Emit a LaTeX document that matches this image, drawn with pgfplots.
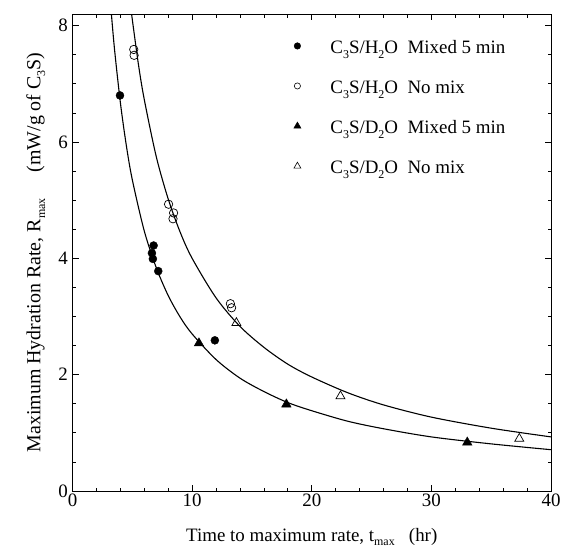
\documentclass[border=0pt]{standalone}
\usepackage{fontspec}
\setmainfont{Liberation Serif}
\usepackage{pgfplots}
\pgfplotsset{compat=1.18}
\newcommand{\sub}[1]{\raisebox{-0.5ex}{\fontsize{12}{12}\selectfont #1}}
\newcommand{\fs}{\fontsize{19}{22}\selectfont}
\begin{document}
\begin{tikzpicture}
\useasboundingbox (-72.5bp,-61bp) rectangle (488.5bp,491bp);
\begin{axis}[
  at={(0,0)}, anchor=south west,
  scale only axis, width=478.5bp, height=477bp,
  xmin=0, xmax=40, ymin=0, ymax=8.2,
  xtick={0,10,20,30,40}, ytick={0,2,4,6,8},
  minor x tick num=4, minor y tick num=3,
  tick align=inside,
  major tick length=6bp, minor tick length=3.5bp,
  every tick/.style={black, line width=0.7bp},
  axis line style={black, line width=0.9bp},
  /pgf/number format/assume math mode=true,
  ticklabel style={font=\fs},
  xticklabel style={inner sep=0pt, yshift=-3bp},
  yticklabel style={inner sep=0pt, xshift=-4.5bp},
  xlabel={Time to maximum rate, t\sub{max}\ \ \ (hr)},
  ylabel={Maximum Hydration Rate, R\sub{max}\hspace{1.3em}(mW/g of C\sub{3}S)},
  label style={font=\fs},
  xlabel style={at={(rel axis cs:0.5,0)}, anchor=base, yshift=-50bp},
  ylabel style={at={(rel axis cs:0,0.5)}, anchor=base, yshift=32bp, font=\fontsize{20}{22}\selectfont},
  legend style={at={(axis cs:18.45,7.74)}, anchor=north west, draw=none, fill=none,
    inner sep=0pt, font=\fs, row sep=22bp, column sep=0pt,
    nodes={inner sep=0pt, text height=13bp, text depth=5bp}},
  legend cell align=left,
]
\addlegendimage{legend image code/.code={\path[draw=none,fill=none] (-4bp,-4bp) rectangle (33bp,4bp); \fill[black] (0,4bp) circle (3.3bp);}}
\addlegendentry{C\sub{3}S/H\sub{2}O\ \ Mixed 5 min}
\addlegendimage{legend image code/.code={\path[draw=none,fill=none] (-4bp,-4bp) rectangle (33bp,4bp); \draw[black, line width=0.6bp] (0,4bp) circle (3.1bp);}}
\addlegendentry{C\sub{3}S/H\sub{2}O\ \ No mix}
\addlegendimage{legend image code/.code={\path[draw=none,fill=none] (-4bp,-4bp) rectangle (33bp,4bp); \fill[black] (-3.6bp,1.8bp) -- (3.6bp,1.8bp) -- (0,8bp) -- cycle;}}
\addlegendentry{C\sub{3}S/D\sub{2}O\ \ Mixed 5 min}
\addlegendimage{legend image code/.code={\path[draw=none,fill=none] (-4bp,-4bp) rectangle (33bp,4bp); \draw[black, line width=0.6bp] (-3.4bp,1.9bp) -- (3.4bp,1.9bp) -- (0,7.8bp) -- cycle;}}
\addlegendentry{C\sub{3}S/D\sub{2}O\ \ No mix}
% fitted curves
\addplot[black, line width=1.1bp, smooth, forget plot] coordinates {
 (3.2,8.33) (3.5,7.62) (4,6.68) (4.5,5.94) (5,5.35) (6,4.47) (7,3.84) (8,3.36)
 (9,2.99) (10,2.70) (12,2.26) (14,1.94) (16,1.71) (18,1.52) (20,1.38) (23,1.20)
 (26,1.07) (30,0.93) (35,0.81) (40,0.71)};
\addplot[black, line width=1.1bp, smooth, forget plot] coordinates {
 (4.9,8.26) (5.5,7.35) (6,6.73) (7,5.75) (8,5.02) (9,4.45) (10,4.00) (12,3.32)
 (14,2.83) (16,2.47) (18,2.18) (20,1.96) (23,1.69) (26,1.48) (30,1.27) (35,1.08)
 (40,0.93)};
% data
\addplot[only marks, mark=*, mark size=4bp, black, forget plot] coordinates {
 (3.97,6.80) (6.78,4.22) (6.64,4.09) (6.72,3.99) (7.17,3.78) (11.9,2.59)};
\addplot[only marks, mark=o, mark size=4.2bp, black, mark options={fill=white, line width=0.7bp}, forget plot] coordinates {
 (5.12,7.59) (5.15,7.49) (8.03,4.93) (8.45,4.78) (8.40,4.68) (13.2,3.22) (13.3,3.15)};
\addplot[only marks, mark=triangle*, mark size=5.5bp, black, forget plot] coordinates {
 (10.57,2.54) (17.88,1.49) (33.0,0.835)};
\addplot[only marks, mark=triangle, mark size=5.2bp, black, mark options={fill=white, line width=0.7bp}, forget plot] coordinates {
 (13.7,2.89) (22.4,1.63) (37.35,0.90)};
\end{axis}
\end{tikzpicture}
\end{document}
